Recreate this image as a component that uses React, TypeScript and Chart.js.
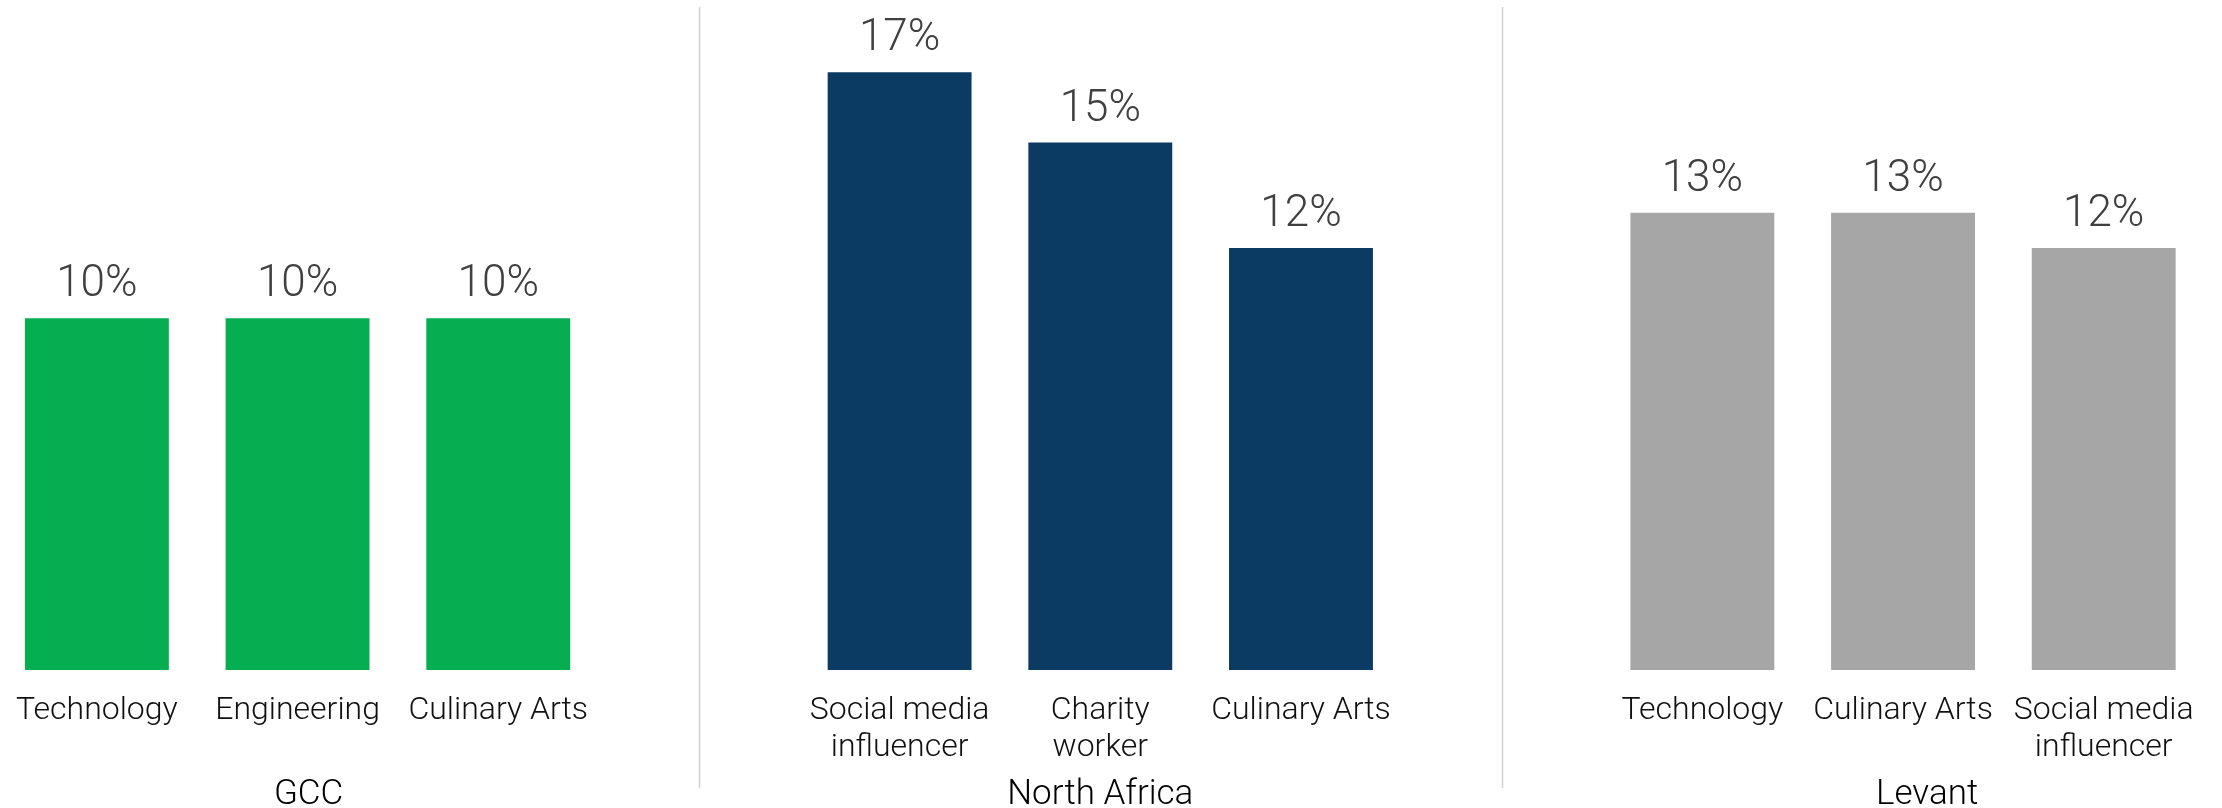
import React, { useEffect, useRef } from 'react';
import { Chart, registerables } from 'chart.js';

Chart.register(...registerables);

// ---- Data ----
const groupNames = ['GCC', 'North Africa', 'Levant'];
const gccCategories = [['Technology'], ['Engineering'], ['Culinary Arts']];
const gccValues = [10, 10, 10];
const northAfricaCategories = [['Social media', 'influencer'], ['Charity', 'worker'], ['Culinary Arts']];
const northAfricaValues = [17, 15, 12];
const levantCategories = [['Technology'], ['Culinary Arts'], ['Social media', 'influencer']];
const levantValues = [13, 13, 12];
const groupColors = ['#06AE52', '#0B3A63', '#A6A6A6'];
// small horizontal nudge of each group title, in category-slot units
const groupTitleShift = [0.055, 0, 0.12];
const yMax = 18;

const groups = [
  { name: groupNames[0], cats: gccCategories, vals: gccValues, color: groupColors[0] },
  { name: groupNames[1], cats: northAfricaCategories, vals: northAfricaValues, color: groupColors[1] },
  { name: groupNames[2], cats: levantCategories, vals: levantValues, color: groupColors[2] },
];

const labels: any[] = [];
const values: (number | null)[] = [];
const colors: string[] = [];
const separatorIdx: number[] = [];
const titleIdx: number[] = [];
groups.forEach((g, gi) => {
  if (gi > 0) {
    separatorIdx.push(labels.length);
    labels.push('');
    values.push(null);
    colors.push('rgba(0,0,0,0)');
  }
  g.cats.forEach((c, ci) => {
    if (ci === Math.floor(g.cats.length / 2)) titleIdx.push(labels.length);
    labels.push(c.length === 1 ? c[0] : c);
    values.push(g.vals[ci]);
    colors.push(g.color);
  });
});

const FONT = 'Roboto';

const valueLabelPlugin = {
  id: 'valueLabels',
  afterDatasetsDraw(chart: any) {
    const ctx = chart.ctx;
    const meta = chart.getDatasetMeta(0);
    ctx.save();
    ctx.font = `300 44px ${FONT}`;
    ctx.fillStyle = '#404040';
    ctx.textAlign = 'center';
    ctx.textBaseline = 'alphabetic';
    meta.data.forEach((bar: any, i: number) => {
      const v = values[i];
      if (v == null) return;
      ctx.fillText(`${v}%`, bar.x, bar.y - 22);
    });
    ctx.restore();
  },
};

const separatorPlugin = {
  id: 'separators',
  afterDraw(chart: any) {
    const ctx = chart.ctx;
    const xs = chart.scales.x;
    ctx.save();
    ctx.strokeStyle = '#D0D0D0';
    ctx.lineWidth = 1.5;
    separatorIdx.forEach((idx) => {
      const x = Math.round(xs.getPixelForValue(idx)) + 0.5;
      ctx.beginPath();
      ctx.moveTo(x, 7);
      ctx.lineTo(x, chart.height - 20);
      ctx.stroke();
    });
    // group titles
    const slot = xs.getPixelForValue(1) - xs.getPixelForValue(0);
    ctx.font = `300 35px ${FONT}`;
    ctx.fillStyle = '#000000';
    ctx.textAlign = 'center';
    ctx.textBaseline = 'alphabetic';
    groups.forEach((g, gi) => {
      const x = xs.getPixelForValue(titleIdx[gi]) + groupTitleShift[gi] * slot;
      ctx.fillText(g.name, x, xs.bottom + 34);
    });
    ctx.restore();
  },
};

export default function App() {
  const ref = useRef<HTMLCanvasElement | null>(null);
  useEffect(() => {
    if (!ref.current) return;
    const chart = new Chart(ref.current, {
      type: 'bar',
      data: {
        labels,
        datasets: [
          {
            data: values as any,
            backgroundColor: colors,
            borderWidth: 0,
            categoryPercentage: 1,
            barPercentage: 0.717,
          },
        ],
      },
      options: {
        responsive: false,
        animation: false,
        devicePixelRatio: 1,
        layout: { padding: { top: 37, bottom: 38, left: 0, right: 0 } },
        plugins: { legend: { display: false }, tooltip: { enabled: false } },
        scales: {
          y: { display: false, min: 0, max: yMax },
          x: {
            type: 'category',
            offset: true,
            grid: { display: false, drawTicks: false },
            border: { display: false },
            ticks: {
              autoSkip: false,
              maxRotation: 0,
              minRotation: 0,
              padding: 22.5,
              color: '#111111',
              font: { family: FONT, size: 32, weight: '300', lineHeight: 37 / 32 },
            },
            afterFit(scale: any) {
              scale.height = 100;
            },
          },
        },
      } as any,
      plugins: [valueLabelPlugin, separatorPlugin],
    });
    return () => chart.destroy();
  }, []);

  return (
    <div
      style={{
        position: 'absolute',
        left: 0,
        top: 0,
        width: 2222,
        height: 808,
        overflow: 'hidden',
        background: '#ffffff',
      }}
    >
      <canvas ref={ref} width={2222} height={808} style={{ position: 'absolute', left: -6, top: 0 }} />
    </div>
  );
}
